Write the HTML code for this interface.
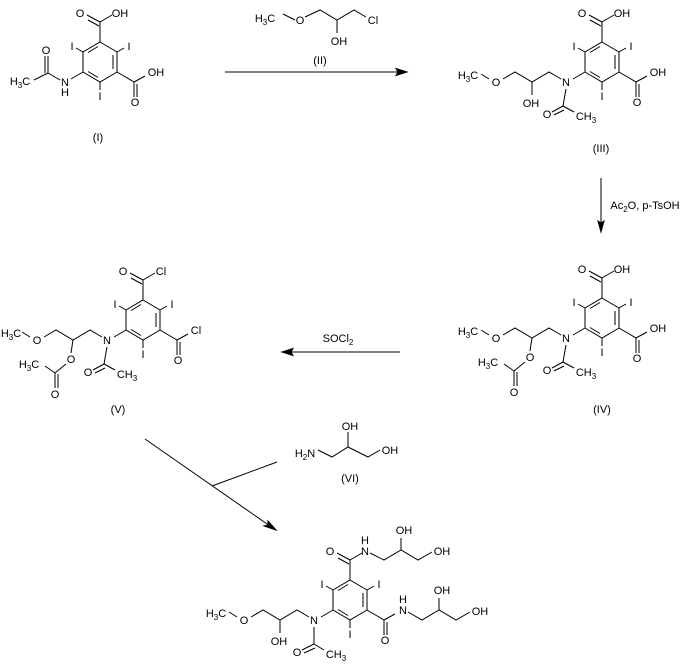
<!DOCTYPE html>
<html><head><meta charset="utf-8"><style>
html,body{margin:0;padding:0;background:#fff}
svg{display:block}
text{font-family:"Liberation Sans",sans-serif;font-size:11px;fill:#000;text-anchor:middle}
line,path,polyline{stroke:#000;stroke-width:1;fill:none}
path.ah{fill:#000}
.s{font-size:8px}
</style></head><body>
<svg width="680" height="665" viewBox="0 0 680 665" xmlns="http://www.w3.org/2000/svg">
<defs>
<g id="ring">
<path d="M0,-20 L17,-10 L17,10 L0,20 L-17,10 L-17,-10Z"/>
<line x1="13" y1="-7" x2="13" y2="7"/>
<line x1="-2" y1="15.5" x2="-12" y2="9.5"/>
<line x1="-2" y1="-15.5" x2="-12" y2="-9.5"/>
<line x1="0" y1="-20" x2="0" y2="-40"/>
<line x1="0" y1="-40" x2="-13" y2="-47"/>
<line x1="-1" y1="-36" x2="-12" y2="-42"/>
<line x1="0" y1="-40" x2="12" y2="-47"/>
<line x1="17" y1="10" x2="34" y2="20"/>
<line x1="34" y1="20" x2="45" y2="14"/>
<line x1="34" y1="20" x2="34" y2="35"/>
<line x1="37" y1="22" x2="37" y2="35"/>
<line x1="17" y1="-10" x2="24" y2="-14"/>
<line x1="-17" y1="-10" x2="-24" y2="-14"/>
<line x1="0" y1="20" x2="0" y2="28"/>
<line x1="-17" y1="10" x2="-29" y2="17"/>
</g>
</defs>

<!-- (I) -->
<g transform="translate(100,62)">
<use href="#ring"/>
<text x="-20" y="-45">O</text><text x="20" y="-45">OH</text>
<text x="56" y="14">OH</text><text x="35" y="44">O</text>
<text x="29" y="-12">I</text><text x="-28" y="-12">I</text><text x="0" y="38">I</text>
<text x="-35" y="24">N</text><text x="-35" y="34">H</text>
<line x1="-40" y1="18" x2="-52" y2="11"/>
<line x1="-52" y1="11" x2="-52" y2="-6"/><line x1="-55" y1="11" x2="-55" y2="-6"/>
<text x="-54" y="-8">O</text>
<line x1="-52" y1="11" x2="-66" y2="18"/>
<text x="-80" y="23">H<tspan class="s" dy="3">3</tspan><tspan dy="-3">C</tspan></text>
</g>
<text x="98" y="141">(I)</text>

<!-- (II) reagent -->
<text x="265" y="22">H<tspan class="s" dy="3">3</tspan><tspan dy="-3">C</tspan></text>
<line x1="283" y1="14" x2="295" y2="20"/>
<text x="300" y="24">O</text>
<polyline points="305,17 320,10 337,20 354,10 366,17"/>
<line x1="337" y1="20" x2="337" y2="33"/>
<text x="339" y="45">OH</text>
<text x="373" y="24">Cl</text>
<text x="320" y="64">(II)</text>
<line x1="225" y1="72" x2="400" y2="72"/>
<path class="ah" d="M407,72 L396,68.5 L398,72 L396,75.5Z"/>

<!-- (III) -->
<g transform="translate(602,62)">
<use href="#ring"/>
<text x="-20" y="-45">O</text><text x="20" y="-45">OH</text>
<text x="56" y="14">OH</text><text x="35" y="44">O</text>
<text x="29" y="-12">I</text><text x="-28" y="-12">I</text><text x="0" y="38">I</text>
<text x="-36" y="24">N</text>
<polyline points="-41,17 -53,10 -70,20 -87,10 -99,17"/>
<line x1="-70" y1="20" x2="-70" y2="33"/>
<text x="-71" y="45">OH</text>
<text x="-106" y="24">O</text>
<line x1="-113" y1="17" x2="-121" y2="12"/>
<text x="-134" y="17">H<tspan class="s" dy="3">3</tspan><tspan dy="-3">C</tspan></text>
<line x1="-36" y1="27" x2="-39" y2="44"/>
<line x1="-39" y1="44" x2="-50" y2="50"/><line x1="-38" y1="48" x2="-48" y2="53"/>
<text x="-55" y="56">O</text>
<line x1="-39" y1="44" x2="-28" y2="50"/>
<text x="-16" y="58">CH<tspan class="s" dy="3">3</tspan></text>
</g>
<text x="601" y="152">(III)</text>

<!-- down arrow -->
<line x1="601" y1="178" x2="601" y2="225"/>
<path class="ah" d="M601,232 L598,221 L601,223 L604,221Z"/>
<text x="645" y="209">Ac<tspan class="s" dy="3">2</tspan><tspan dy="-3">O, p-TsOH</tspan></text>

<!-- (IV) -->
<g transform="translate(602,318)">
<use href="#ring"/>
<text x="-20" y="-45">O</text><text x="20" y="-45">OH</text>
<text x="56" y="14">OH</text><text x="35" y="44">O</text>
<text x="29" y="-12">I</text><text x="-28" y="-12">I</text><text x="0" y="38">I</text>
<text x="-36" y="24">N</text>
<polyline points="-41,17 -53,10 -70,20 -87,10 -99,17"/>
<line x1="-70" y1="20" x2="-72" y2="33"/>
<text x="-72" y="43">O</text>
<line x1="-77" y1="44" x2="-88" y2="53"/>
<line x1="-88" y1="53" x2="-98" y2="46"/>
<text x="-114" y="48">H<tspan class="s" dy="3">3</tspan><tspan dy="-3">C</tspan></text>
<line x1="-88" y1="53" x2="-88" y2="68"/><line x1="-85" y1="54" x2="-85" y2="68"/>
<text x="-88" y="78">O</text>
<text x="-106" y="24">O</text>
<line x1="-113" y1="17" x2="-121" y2="12"/>
<text x="-134" y="17">H<tspan class="s" dy="3">3</tspan><tspan dy="-3">C</tspan></text>
<line x1="-36" y1="27" x2="-39" y2="44"/>
<line x1="-39" y1="44" x2="-50" y2="50"/><line x1="-38" y1="48" x2="-48" y2="53"/>
<text x="-55" y="56">O</text>
<line x1="-39" y1="44" x2="-28" y2="50"/>
<text x="-16" y="58">CH<tspan class="s" dy="3">3</tspan></text>
</g>
<text x="602" y="413">(IV)</text>

<!-- SOCl2 arrow -->
<line x1="400" y1="352" x2="289" y2="352"/>
<path class="ah" d="M282,352 L293,348.5 L291,352 L293,355.5Z"/>
<text x="338" y="342">SOCl<tspan class="s" dy="3">2</tspan></text>

<!-- (V) -->
<g transform="translate(143,320)">
<use href="#ring"/>
<text x="-20" y="-45">O</text><text x="18" y="-45">Cl</text>
<text x="53" y="14">Cl</text><text x="35" y="44">O</text>
<text x="29" y="-12">I</text><text x="-28" y="-12">I</text><text x="0" y="38">I</text>
<text x="-36" y="24">N</text>
<polyline points="-41,17 -53,10 -70,20 -87,10 -99,17"/>
<line x1="-70" y1="20" x2="-72" y2="33"/>
<text x="-72" y="43">O</text>
<line x1="-77" y1="44" x2="-88" y2="53"/>
<line x1="-88" y1="53" x2="-98" y2="46"/>
<text x="-114" y="48">H<tspan class="s" dy="3">3</tspan><tspan dy="-3">C</tspan></text>
<line x1="-88" y1="53" x2="-88" y2="68"/><line x1="-85" y1="54" x2="-85" y2="68"/>
<text x="-88" y="78">O</text>
<text x="-106" y="24">O</text>
<line x1="-113" y1="17" x2="-121" y2="12"/>
<text x="-132" y="17">H<tspan class="s" dy="3">3</tspan><tspan dy="-3">C</tspan></text>
<line x1="-36" y1="27" x2="-39" y2="44"/>
<line x1="-39" y1="44" x2="-50" y2="50"/><line x1="-38" y1="48" x2="-48" y2="53"/>
<text x="-55" y="56">O</text>
<line x1="-39" y1="44" x2="-28" y2="50"/>
<text x="-16" y="58">CH<tspan class="s" dy="3">3</tspan></text>
</g>
<text x="118" y="413">(V)</text>

<!-- diagonal arrow -->
<line x1="145" y1="439" x2="270" y2="526"/>
<path class="ah" d="M276,530 L268,521 L268,525 L264,526Z"/>
<line x1="277" y1="462" x2="212" y2="486"/>

<!-- (VI) -->
<text x="305" y="457">H<tspan class="s" dy="3">2</tspan><tspan dy="-3">N</tspan></text>
<polyline points="318,450 332,457 348,447 368,457 380,450"/>
<line x1="348" y1="447" x2="348" y2="432"/>
<text x="350" y="430">OH</text>
<text x="390" y="454">OH</text>
<text x="350" y="482">(VI)</text>

<!-- product -->
<g transform="translate(350,600)">
<use href="#ring"/>
<text x="-20" y="-45">O</text>
<text x="15" y="-45">N</text><text x="15" y="-56">H</text>
<polyline points="20,-47 34,-40 51,-50 68,-40 82,-48"/>
<line x1="51" y1="-50" x2="51" y2="-62"/>
<text x="54" y="-66">OH</text>
<text x="92" y="-45">OH</text>
<text x="53" y="14">N</text><text x="53" y="3">H</text>
<polyline points="58,12 72,20 89,10 106,20 120,12"/>
<line x1="89" y1="10" x2="89" y2="-2"/>
<text x="92" y="-6">OH</text>
<text x="130" y="15">OH</text>
<text x="35" y="44">O</text>
<text x="29" y="-12">I</text><text x="-28" y="-12">I</text><text x="0" y="38">I</text>
<text x="-36" y="24">N</text>
<polyline points="-41,17 -53,10 -70,20 -87,10 -99,17"/>
<line x1="-70" y1="20" x2="-70" y2="33"/>
<text x="-71" y="45">OH</text>
<text x="-106" y="24">O</text>
<line x1="-113" y1="17" x2="-121" y2="12"/>
<text x="-134" y="17">H<tspan class="s" dy="3">3</tspan><tspan dy="-3">C</tspan></text>
<line x1="-36" y1="27" x2="-36" y2="44"/>
<line x1="-36" y1="44" x2="-48" y2="50"/><line x1="-35" y1="48" x2="-46" y2="53"/>
<text x="-53" y="56">O</text>
<line x1="-36" y1="44" x2="-26" y2="50"/>
<text x="-14" y="58">CH<tspan class="s" dy="3">3</tspan></text>
</g>
</svg>
</body></html>
